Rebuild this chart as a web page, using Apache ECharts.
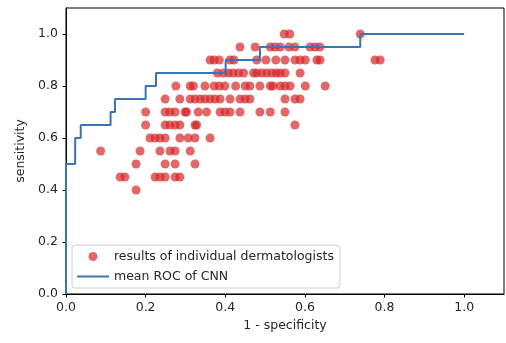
<!DOCTYPE html>
<html>
<head>
<meta charset="utf-8">
<script src="https://cdn.jsdelivr.net/npm/echarts@6/dist/echarts.min.js"></script>
<style>
  html, body { margin: 0; padding: 0; background: #fff; }
  #chart { width: 506px; height: 343px; }
</style>
</head>
<body>
<div id="chart"></div>
<script>
// Sensitivity levels reached by individual dermatologists
const sensLevels = [1.00, 0.95, 0.90, 0.85, 0.80, 0.75, 0.70, 0.65, 0.60, 0.55, 0.50, 0.45, 0.40];
// 1 - specificity of each dermatologist, grouped by sensitivity level
const fprByLevel = [
  [0.548, 0.562, 0.739],
  [0.437, 0.475, 0.513, 0.525, 0.538, 0.56, 0.575, 0.613, 0.626, 0.638],
  [0.362, 0.372, 0.385, 0.412, 0.422, 0.479, 0.502, 0.527, 0.55, 0.575, 0.588, 0.601, 0.63, 0.638, 0.776, 0.789],
  [0.38, 0.395, 0.408, 0.42, 0.433, 0.446, 0.471, 0.479, 0.492, 0.504, 0.517, 0.528, 0.538, 0.55, 0.588],
  [0.276, 0.312, 0.32, 0.349, 0.372, 0.385, 0.399, 0.426, 0.45, 0.462, 0.487, 0.513, 0.52, 0.538, 0.55, 0.563, 0.601, 0.651],
  [0.249, 0.286, 0.312, 0.324, 0.337, 0.349, 0.362, 0.374, 0.387, 0.412, 0.437, 0.45, 0.462, 0.55, 0.575, 0.588],
  [0.2, 0.249, 0.261, 0.274, 0.299, 0.303, 0.332, 0.353, 0.387, 0.399, 0.412, 0.437, 0.487, 0.513, 0.55],
  [0.2, 0.249, 0.261, 0.274, 0.286, 0.324, 0.328, 0.575],
  [0.211, 0.224, 0.236, 0.249, 0.286, 0.307, 0.324, 0.362],
  [0.087, 0.186, 0.236, 0.261, 0.274, 0.312],
  [0.176, 0.249, 0.274, 0.324],
  [0.136, 0.148, 0.224, 0.236, 0.249, 0.274, 0.286],
  [0.176]
];

// Mean ROC curve of the CNN (corner points of the step curve)
const rocFpr = [0, 0, 0.023, 0.037, 0.112, 0.123, 0.2, 0.226, 0.401, 0.487, 0.739, 1.0];
const rocTpr = [0, 0.5, 0.6, 0.65, 0.7, 0.75, 0.8, 0.85, 0.9, 0.95, 1.0, 1.0];

const tickValues = [0, 0.2, 0.4, 0.6, 0.8, 1.0];

const dermPoints = [];
sensLevels.forEach((s, i) => fprByLevel[i].forEach(x => dermPoints.push([x, s])));
const rocPoints = rocFpr.map((x, i) => [x, rocTpr[i]]);

const FONT = 'DejaVu Sans';
const TEXT = '#262626';
const ROC_COLOR = '#3b74b4';

const chart = echarts.init(document.getElementById('chart'), null, { renderer: 'canvas' });

const axisCommon = {
  type: 'value',
  min: 0,
  max: 1.1,
  nameLocation: 'middle',
  nameTextStyle: { fontFamily: FONT, fontSize: 12.5, color: TEXT },
  splitLine: { show: false },
  axisLine: { show: true, lineStyle: { color: '#000', width: 1 } },
  axisTick: { show: true, inside: false, length: 3.5, lineStyle: { color: '#000', width: 1 }, customValues: tickValues },
  axisLabel: {
    fontFamily: FONT, fontSize: 12.5, color: TEXT,
    customValues: tickValues,
    formatter: v => v.toFixed(1)
  }
};

chart.setOption({
  animation: false,
  backgroundColor: '#fff',
  grid: {
    left: 66, top: 8, width: 438, height: 286,
    show: true, borderColor: '#000', borderWidth: 1, backgroundColor: 'transparent'
  },
  xAxis: Object.assign({}, axisCommon, {
    name: '1 - specificity',
    nameGap: 24,
    axisLabel: Object.assign({}, axisCommon.axisLabel, { margin: 7 })
  }),
  yAxis: Object.assign({}, axisCommon, {
    name: 'sensitivity',
    nameGap: 34,
    axisLabel: Object.assign({}, axisCommon.axisLabel, { margin: 8 })
  }),
  legend: {
    left: 72,
    top: 245,
    orient: 'vertical',
    align: 'left',
    padding: [4, 6, 4, 5],
    itemWidth: 32,
    itemHeight: 9,
    itemGap: 5,
    symbolKeepAspect: true,
    borderColor: '#d0d0d0',
    borderWidth: 1,
    borderRadius: 3,
    backgroundColor: 'rgba(255,255,255,0.8)',
    textStyle: { fontFamily: FONT, fontSize: 12.5, color: TEXT, lineHeight: 15 },
    data: [
      { name: 'results of individual dermatologists', icon: 'circle' },
      // plain line swatch for the ROC curve
      { name: 'mean ROC of CNN', icon: 'path://M0,0 L32,0 L32,2 L0,2 Z' }
    ]
  },
  series: [
    {
      name: 'results of individual dermatologists',
      type: 'scatter',
      symbol: 'circle',
      symbolSize: 9,
      itemStyle: { color: '#d62728', opacity: 0.7 },
      data: dermPoints,
      z: 2
    },
    {
      name: 'mean ROC of CNN',
      type: 'line',
      step: 'end',
      symbol: 'none',
      showSymbol: false,
      lineStyle: { color: ROC_COLOR, width: 2 },
      itemStyle: { color: ROC_COLOR },
      data: rocPoints,
      z: 3
    }
  ]
});
</script>
</body>
</html>
